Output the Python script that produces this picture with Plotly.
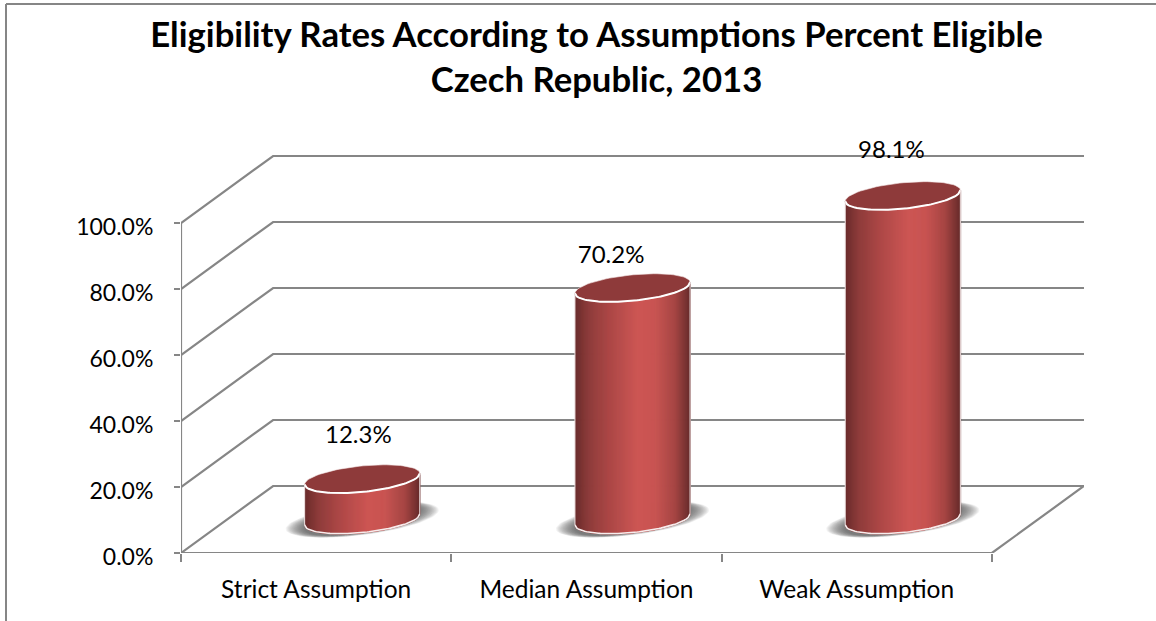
import numpy as np
import plotly.graph_objects as go

# ---- data ----
categories = ["Strict Assumption", "Median Assumption", "Weak Assumption"]
values = [12.3, 70.2, 98.1]
value_labels = ["12.3%", "70.2%", "98.1%"]
grid_values = [0, 20, 40, 60, 80, 100]
grid_labels = ["0.0%", "20.0%", "40.0%", "60.0%", "80.0%", "100.0%"]
title_text = "Eligibility Rates According to Assumptions Percent Eligible<br>Czech Republic, 2013"

# ---- pseudo 3D projection, in axis units ----
PX_X = 270.0      # pixels per category
PX_Y = 3.3        # pixels per percent
DEPTH_X = 92 / PX_X
DEPTH_Y = 67 / PX_Y
RAD_A = 57.5 / PX_X
RAD_B = 13 / PX_Y
RAD_S = 5.5 / PX_Y
LABEL_DX = [-0.0142, -0.0792, -0.0422]
LABEL_DY = [12.7, 9.35, 13.3]
Y_TOP = 130

GRID = "#868686"
TOP = "#8E3A3A"
FONT = "Lato, Carlito, Calibri, sans-serif"
GRAD = [(0, "#6A2C2C"), (0.12, "#8E3C3B"), (0.3, "#AD4847"), (0.55, "#CD5654"),
        (0.7, "#C85452"), (0.87, "#A54543"), (1, "#672B2B")]

W, H = 1156, 621
L, R, T, B = 181, W - 1084, 553 - Y_TOP * PX_Y, H - 553


def lerp_color(f):
    for (f0, c0), (f1, c1) in zip(GRAD, GRAD[1:]):
        if f <= f1:
            k = (f - f0) / (f1 - f0)
            a = [int(c0[i:i + 2], 16) for i in (1, 3, 5)]
            b = [int(c1[i:i + 2], 16) for i in (1, 3, 5)]
            return "rgb(%d,%d,%d)" % tuple(round(p + (q - p) * k) for p, q in zip(a, b))
    return GRAD[-1][1]


def lower_arc(u, cy):
    return cy + RAD_S * u - RAD_B * np.sqrt(np.clip(1 - u * u, 0, 1))


def ellipse(cx, cy, a=RAD_A, b=RAD_B, s=RAD_S):
    t = np.linspace(0, 2 * np.pi, 90)
    return cx + a * np.cos(t), cy + b * np.sin(t) + s * np.cos(t)


fig = go.Figure()


def add(**kw):
    fig.add_trace(go.Scatter(showlegend=False, hoverinfo="skip", cliponaxis=False, **kw))


# walls and floor
x0, x1 = -0.5, 2.5
gx, gy = [], []
for v in grid_values:
    gx += [x0, x0 + DEPTH_X, x1 + DEPTH_X, None]
    gy += [v, v + DEPTH_Y, v + DEPTH_Y, None]
gx += [x0, x1, x1 + DEPTH_X, None, x0, x0]
gy += [0, 0, DEPTH_Y, None, 0, 100]
add(x=gx, y=gy, mode="lines", line=dict(color=GRID, width=2.2))

centers = [i + DEPTH_X / 2 for i in range(len(values))]
base = DEPTH_Y / 2

# soft floor shadows
for k in np.linspace(0, 1, 18):
    sx, sy = [], []
    for cx in centers:
        ex, ey = ellipse(cx, base, RAD_A * (1.33 - 0.33 * k), RAD_B * (1.2 - 0.2 * k), RAD_S * 1.7)
        sx += list(ex) + [None]
        sy += list(ey) + [None]
    add(x=sx, y=sy, mode="lines", fill="toself", line=dict(width=0),
        fillcolor="rgba(80,80,80,0.065)")

# cylinder bodies as shaded strips
N = 115
edges = np.linspace(-1, 1, N + 1)
for j in range(N):
    us = np.linspace(edges[j], edges[j + 1], 2)
    col = lerp_color((j + 0.5) / N)
    sx, sy = [], []
    for cx, val in zip(centers, values):
        xs = cx + RAD_A * us
        sx += list(xs) + list(xs[::-1]) + [None]
        sy += list(lower_arc(us, base + val)) + list(lower_arc(us[::-1], base)) + [None]
    add(x=sx, y=sy, mode="lines", fill="toself", line=dict(color=col, width=1.5), fillcolor=col)

# tops and rims
U = np.linspace(-1, 1, 60)
for cx, val in zip(centers, values):
    ex, ey = ellipse(cx, base + val)
    add(x=ex, y=ey, mode="lines", fill="toself", fillcolor=TOP, line=dict(color="#F4E6E6", width=0.6))
    add(x=cx + RAD_A * U, y=lower_arc(U, base + val), mode="lines",
        line=dict(color="white", width=2))
    add(x=cx + RAD_A * U, y=lower_arc(U, base), mode="lines",
        line=dict(color="#F7EDED", width=1.6))
    add(x=[cx - RAD_A, cx - RAD_A], y=[base + val - RAD_S, base - RAD_S], mode="lines",
        line=dict(color="#EFE3E3", width=1))
    add(x=[cx + RAD_A, cx + RAD_A], y=[base + val + RAD_S, base + RAD_S], mode="lines",
        line=dict(color="#EFE3E3", width=1))

# value labels
add(x=[c + d for c, d in zip(centers, LABEL_DX)],
    y=[base + v + d for v, d in zip(values, LABEL_DY)],
    mode="text", text=value_labels, textposition="middle center",
    textfont=dict(family=FONT, size=24, color="black"))

fig.update_layout(
    width=W, height=H, autosize=False,
    margin=dict(l=L, r=R, t=T, b=B),
    paper_bgcolor="white", plot_bgcolor="white", showlegend=False,
    title=dict(text=title_text, x=596.5 / W, xanchor="center", y=1 - 46.5 / H, yanchor="top",
               font=dict(family=FONT, size=34.7, color="black", weight="bold")),
    xaxis=dict(range=[x0, x1 + DEPTH_X], tickmode="array", tickvals=[0, 1, 2], ticktext=categories,
               showgrid=False, zeroline=False, showline=False, ticks="",
               ticklabelstandoff=19, tickfont=dict(family=FONT, size=24.5, color="black"),
               minor=dict(tickmode="array", tickvals=[-0.5, 0.5, 1.5, 2.5], ticks="outside",
                          ticklen=8, tickwidth=2, tickcolor=GRID, showgrid=False)),
    yaxis=dict(range=[0, Y_TOP], tickmode="array", tickvals=grid_values, ticktext=grid_labels,
               showgrid=False, zeroline=False, showline=False, ticks="outside", ticklen=6,
               tickwidth=2, tickcolor=GRID, ticklabelstandoff=16, ticklabelshift=4,
               tickfont=dict(family=FONT, size=23, color="black")),
)

# chart-area frame (left and top edges)
pw, ph = W - L - R, H - T - B
fx = (6 - L) / pw
fy = (H - B - 4) / ph
fb = (H - B - H) / ph
fr = (W - L) / pw
frame = dict(type="line", xref="paper", yref="paper", line=dict(color=GRID, width=2), layer="below")
fig.add_shape(x0=fx, x1=fx, y0=fb, y1=fy, **frame)
fig.add_shape(x0=fx, x1=fr, y0=fy, y1=fy, **frame)

fig.write_html("out.html", config=dict(displayModeBar=False),
               post_script="document.body.style.margin='0';document.body.style.overflow='hidden';")
